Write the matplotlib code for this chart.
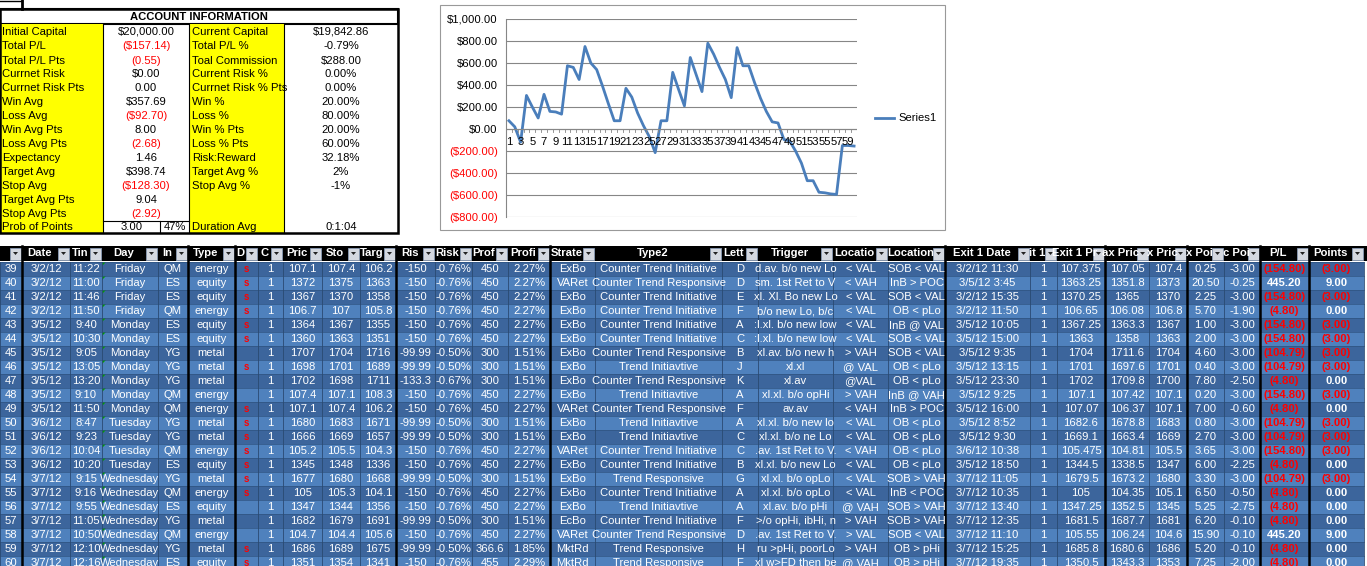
import matplotlib
matplotlib.use('Agg')
import matplotlib.pyplot as plt
from matplotlib.patches import Rectangle, Polygon
from matplotlib.ticker import FuncFormatter

plt.rcParams['font.family'] = ['Liberation Sans', 'DejaVu Sans']

W, H = 1367, 566

# equity curve (Series1)
equity = [75, 20, -120, 305, 200, 100, 315, 160, 155, 135,
          575, 560, 450, 750, 600, 540, 390, 230, 75, 75,
          370, 290, 145, 30, -70, -215, 75, 75, 515, 360,
          210, 650, 495, 340, 780, 680, 560, 450, 285, 740,
          575, 575, 420, 280, 160, 65, 55, -95, -110, -200,
          -310, -470, -470, -575, -580, -590, -595, -150, -150, -155]

info_left_labels = ['Initial Capital', 'Total P/L', 'Total P/L Pts', 'Currnet Risk', 'Currnet Risk Pts',
                    'Win Avg', 'Loss Avg', 'Win Avg Pts', 'Loss Avg Pts', 'Expectancy', 'Target Avg',
                    'Stop Avg', 'Target Avg Pts', 'Stop Avg Pts', 'Prob of Points']
info_left_values = ['$20,000.00', '($157.14)', '(0.55)', '$0.00', '0.00', '$357.69', '($92.70)',
                    '8.00', '(2.68)', '1.46', '$398.74', '($128.30)', '9.04', '(2.92)', '3.00']
info_right_labels = ['Current Capital', 'Total P/L %', 'Toal Commission', 'Current Risk %',
                     'Currnet Risk % Pts', 'Win %', 'Loss %', 'Win % Pts', 'Loss % Pts', 'Risk:Reward',
                     'Target Avg %', 'Stop Avg %', '', '', 'Duration Avg']
info_right_values = ['$19,842.86', '-0.79%', '$288.00', '0.00%', '0.00%', '20.00%', '80.00%',
                     '20.00%', '60.00%', '32.18%', '2%', '-1%', '', '', '0:1:04']
prob_pct = '47%'

headers = ['', 'Date', 'Tin', 'Day', 'In', 'Type', 'D', 'C', 'Pric', 'Sto', 'Targ', 'Ris', 'Risk',
           'Prof', 'Profi', 'Strate', 'Type2', 'Lett', 'Trigger', 'Locatio', 'Location',
           'Exit 1 Date', 'it 1', 'Exit 1 Pr', 'ax Pric', 'x Pric', 'x Poi', 'c Poi', 'P/L', 'Points']

CTI, CTR, TI, TR = 'Counter Trend Initiative', 'Counter Trend Responsive', 'Trend Initiavtive', 'Trend Responsive'
trades = [
    ['39', '3/2/12', '11:22', 'Friday', 'QM', 'energy', 's', '1', '107.1', '107.4', '106.2', '-150', '-0.76%', '450', '2.27%', 'ExBo', CTI, 'D', 'd.av. b/o new Lo', '< VAL', 'SOB < VAL', '3/2/12 11:30', '1', '107.375', '107.05', '107.4', '0.25', '-3.00', '(154.80)', '(3.00)'],
    ['40', '3/2/12', '11:00', 'Friday', 'ES', 'equity', 's', '1', '1372', '1375', '1363', '-150', '-0.76%', '450', '2.27%', 'VARet', CTR, 'D', 'sm. 1st Ret to V', '< VAH', 'InB > POC', '3/5/12 3:45', '1', '1363.25', '1351.8', '1373', '20.50', '-0.25', '445.20', '9.00'],
    ['41', '3/2/12', '11:46', 'Friday', 'ES', 'equity', 's', '1', '1367', '1370', '1358', '-150', '-0.76%', '450', '2.27%', 'ExBo', CTI, 'E', 'xl. Xl. Bo new Lo', '< VAL', 'SOB < VAL', '3/2/12 15:35', '1', '1370.25', '1365', '1370', '2.25', '-3.00', '(154.80)', '(3.00)'],
    ['42', '3/2/12', '11:50', 'Friday', 'QM', 'energy', 's', '1', '106.7', '107', '105.8', '-150', '-0.76%', '450', '2.27%', 'ExBo', CTI, 'F', 'b/o new Lo, b/c', '< VAL', 'OB < pLo', '3/2/12 11:50', '1', '106.65', '106.08', '106.8', '5.70', '-1.90', '(4.80)', '0.00'],
    ['43', '3/5/12', '9:40', 'Monday', 'ES', 'equity', 's', '1', '1364', '1367', '1355', '-150', '-0.76%', '450', '2.27%', 'ExBo', CTI, 'A', ':l.xl. b/o new low', '< VAL', 'InB @ VAL', '3/5/12 10:05', '1', '1367.25', '1363.3', '1367', '1.00', '-3.00', '(154.80)', '(3.00)'],
    ['44', '3/5/12', '10:30', 'Monday', 'ES', 'equity', 's', '1', '1360', '1363', '1351', '-150', '-0.76%', '450', '2.27%', 'ExBo', CTI, 'C', ':l.xl. b/o new low', '< VAL', 'SOB < VAL', '3/5/12 15:00', '1', '1363', '1358', '1363', '2.00', '-3.00', '(154.80)', '(3.00)'],
    ['45', '3/5/12', '9:05', 'Monday', 'YG', 'metal', '', '1', '1707', '1704', '1716', '-99.99', '-0.50%', '300', '1.51%', 'ExBo', CTR, 'B', 'xl.av. b/o new h', '> VAH', 'SOB < VAL', '3/5/12 9:35', '1', '1704', '1711.6', '1704', '4.60', '-3.00', '(104.79)', '(3.00)'],
    ['46', '3/5/12', '13:05', 'Monday', 'YG', 'metal', 's', '1', '1698', '1701', '1689', '-99.99', '-0.50%', '300', '1.51%', 'ExBo', TI, 'J', 'xl.xl', '@ VAL', 'OB < pLo', '3/5/12 13:15', '1', '1701', '1697.6', '1701', '0.40', '-3.00', '(104.79)', '(3.00)'],
    ['47', '3/5/12', '13:20', 'Monday', 'YG', 'metal', '', '1', '1702', '1698', '1711', '-133.3', '-0.67%', '300', '1.51%', 'ExBo', CTR, 'K', 'xl.av', '@VAL', 'OB < pLo', '3/5/12 23:30', '1', '1702', '1709.8', '1700', '7.80', '-2.50', '(4.80)', '0.00'],
    ['48', '3/5/12', '9:10', 'Monday', 'QM', 'energy', '', '1', '107.4', '107.1', '108.3', '-150', '-0.76%', '450', '2.27%', 'ExBo', TI, 'A', 'xl.xl. b/o opHi', '> VAH', 'InB @ VAH', '3/5/12 9:25', '1', '107.1', '107.42', '107.1', '0.20', '-3.00', '(154.80)', '(3.00)'],
    ['49', '3/5/12', '11:50', 'Monday', 'QM', 'energy', 's', '1', '107.1', '107.4', '106.2', '-150', '-0.76%', '450', '2.27%', 'VARet', CTR, 'F', 'av.av', '< VAH', 'InB > POC', '3/5/12 16:00', '1', '107.07', '106.37', '107.1', '7.00', '-0.60', '(4.80)', '0.00'],
    ['50', '3/6/12', '8:47', 'Tuesday', 'YG', 'metal', 's', '1', '1680', '1683', '1671', '-99.99', '-0.50%', '300', '1.51%', 'ExBo', TI, 'A', 'xl.xl. b/o new lo', '< VAL', 'OB < pLo', '3/5/12 8:52', '1', '1682.6', '1678.8', '1683', '0.80', '-3.00', '(104.79)', '(3.00)'],
    ['51', '3/6/12', '9:23', 'Tuesday', 'YG', 'metal', 's', '1', '1666', '1669', '1657', '-99.99', '-0.50%', '300', '1.51%', 'ExBo', TI, 'C', 'xl.xl. b/o ne Lo', '< VAL', 'OB < pLo', '3/5/12 9:30', '1', '1669.1', '1663.4', '1669', '2.70', '-3.00', '(104.79)', '(3.00)'],
    ['52', '3/6/12', '10:04', 'Tuesday', 'QM', 'energy', 's', '1', '105.2', '105.5', '104.3', '-150', '-0.76%', '450', '2.27%', 'VARet', CTI, 'C', '.av. 1st Ret to V.', '< VAH', 'OB < pLo', '3/6/12 10:38', '1', '105.475', '104.81', '105.5', '3.65', '-3.00', '(154.80)', '(3.00)'],
    ['53', '3/6/12', '10:20', 'Tuesday', 'ES', 'equity', 's', '1', '1345', '1348', '1336', '-150', '-0.76%', '450', '2.27%', 'ExBo', CTI, 'B', 'xl.xl. b/o new Lo', '< VAL', 'OB < pLo', '3/5/12 18:50', '1', '1344.5', '1338.5', '1347', '6.00', '-2.25', '(4.80)', '0.00'],
    ['54', '3/7/12', '9:15', 'Wednesday', 'YG', 'metal', 's', '1', '1677', '1680', '1668', '-99.99', '-0.50%', '300', '1.51%', 'ExBo', TR, 'G', 'xl.xl. b/o opLo', '< VAL', 'SOB > VAH', '3/7/12 11:05', '1', '1679.5', '1673.2', '1680', '3.30', '-3.00', '(104.79)', '(3.00)'],
    ['55', '3/7/12', '9:16', 'Wednesday', 'QM', 'energy', 's', '1', '105', '105.3', '104.1', '-150', '-0.76%', '450', '2.27%', 'ExBo', CTI, 'A', 'xl.xl. b/o opLo', '< VAL', 'InB < POC', '3/7/12 10:35', '1', '105', '104.35', '105.1', '6.50', '-0.50', '(4.80)', '0.00'],
    ['56', '3/7/12', '9:55', 'Wednesday', 'ES', 'equity', '', '1', '1347', '1344', '1356', '-150', '-0.76%', '450', '2.27%', 'ExBo', TI, 'A', 'xl.av. b/o pHi', '@ VAH', 'SOB > VAH', '3/7/12 13:40', '1', '1347.25', '1352.5', '1345', '5.25', '-2.75', '(4.80)', '0.00'],
    ['57', '3/7/12', '11:05', 'Wednesday', 'YG', 'metal', '', '1', '1682', '1679', '1691', '-99.99', '-0.50%', '300', '1.51%', 'EcBo', CTI, 'F', '>/o opHi, ibHi, n', '> VAH', 'SOB > VAH', '3/7/12 12:35', '1', '1681.5', '1687.7', '1681', '6.20', '-0.10', '(4.80)', '0.00'],
    ['58', '3/7/12', '10:50', 'Wednesday', 'QM', 'energy', '', '1', '104.7', '104.4', '105.6', '-150', '-0.76%', '450', '2.27%', 'VARet', CTR, 'D', '.av. 1st Ret to V.', '> VAL', 'SOB < VAL', '3/7/12 11:10', '1', '105.55', '106.24', '104.6', '15.90', '-0.10', '445.20', '9.00'],
    ['59', '3/7/12', '12:10', 'Wednesday', 'YG', 'metal', 's', '1', '1686', '1689', '1675', '-99.99', '-0.50%', '366.6', '1.85%', 'MktRd', TR, 'H', 'ru >pHi, poorLo', '> VAH', 'OB > pHi', '3/7/12 15:25', '1', '1685.8', '1680.6', '1686', '5.20', '-0.10', '(4.80)', '0.00'],
    ['60', '3/7/12', '12:16', 'Wednesday', 'ES', 'equity', 's', '1', '1351', '1354', '1341', '-150', '-0.76%', '455', '2.29%', 'MktRd', TR, 'F', 'xl w>FD then be', '@ VAH', 'OB > pHi', '3/7/12 19:35', '1', '1350.5', '1343.3', '1353', '7.25', '-2.00', '(4.80)', '0.00'],
]

edges = [0, 22, 70, 102, 158, 188, 235, 258, 283, 322, 360, 396, 435, 472, 508, 550, 595, 722,
         758, 833, 888, 945, 1030, 1057, 1105, 1149, 1187, 1224, 1260, 1309, 1364]
thick = [22, 188, 235, 396, 550, 945, 1105, 1187, 1260, 1309]

fig = plt.figure(figsize=(W / 100, H / 100), dpi=100)
ax = fig.add_axes([0, 0, 1, 1])
ax.set_xlim(0, W)
ax.set_ylim(H, 0)
ax.axis('off')

FS = 8.1
RED = '#ff0000'

# --- account information block ---
ax.add_patch(Rectangle((0, 9), 398, 15, fc='white', ec='black', lw=1.5))
ax.text(199, 16.5, 'ACCOUNT INFORMATION', ha='center', va='center', fontsize=FS, weight='bold')
ax.add_patch(Rectangle((0, 24), 103, 209, fc='#ffff00', ec='none'))
ax.add_patch(Rectangle((189, 24), 95, 209, fc='#ffff00', ec='none'))
for x in (103, 189, 284):
    ax.plot([x, x], [24, 233], color='black', lw=0.8)
ax.plot([103, 189], [220.5, 220.5], color='black', lw=0.8)
ax.plot([160, 160], [220.5, 233], color='black', lw=0.8)
ax.add_patch(Rectangle((0, 9), 398, 224, fc='none', ec='black', lw=1.8))
row_y = [31.7, 45.7, 60.7, 73.7, 87.7, 101.7, 115.7, 129.7, 143.7, 157.7, 171.7, 185.7, 199.7, 213.7, 226.7]
for i, y in enumerate(row_y):
    ax.text(2, y, info_left_labels[i], va='center', fontsize=FS)
    v = info_left_values[i]
    xv = 132 if i == len(row_y) - 1 else 146
    ax.text(xv, y, v, ha='center', va='center', fontsize=FS, color=RED if v.startswith('(') else 'black')
    ax.text(192, y, info_right_labels[i], va='center', fontsize=FS)
    ax.text(341, y, info_right_values[i], ha='center', va='center', fontsize=FS)
ax.text(175, row_y[-1], prob_pct, ha='center', va='center', fontsize=FS)
ax.plot([0, 22], [0.5, 0.5], color='black', lw=1)
ax.plot([22, 22], [0, 9], color='black', lw=2)

# --- chart box ---
ax.add_patch(Rectangle((440, 5), 505, 225, fc='white', ec='#999999', lw=0.8))
ax.plot([875, 894], [118, 118], color='#4a7ebb', lw=2)
ax.text(898, 118, 'Series1', va='center', fontsize=FS)

cx = fig.add_axes([506 / W, (H - 217) / H, (857 - 506) / W, (217 - 19) / H])
n = len(equity)
xs = list(range(1, n + 1))
cx.plot(xs, equity, color='#4a7ebb', lw=2)
cx.set_xlim(0.5, n + 0.5)
cx.set_ylim(-800, 1000)
cx.set_yticks(range(-800, 1001, 200))
cx.yaxis.set_major_formatter(FuncFormatter(lambda v, p: f'${v:,.2f}' if v >= 0 else f'(${-v:,.2f})'))
cx.grid(axis='y', color='#868686', lw=0.8)
cx.set_axisbelow(True)
cx.tick_params(axis='y', length=0, labelsize=FS, pad=6)
for lab in cx.get_yticklabels():
    if lab.get_text().startswith('('):
        lab.set_color(RED)
cx.set_xticks([])
for s in ('top', 'right', 'bottom'):
    cx.spines[s].set_visible(False)
cx.spines['left'].set_color('#868686')
cx.axhline(0, color='#868686', lw=0.8)
for k in range(n + 1):
    cx.plot([k + 0.5, k + 0.5], [0, -25], color='#868686', lw=0.6)
for k in xs[::2]:
    cx.text(k, -120, str(k), ha='center', va='center', fontsize=FS)

# --- trade table ---
ax.add_patch(Rectangle((0, 246), 1367, 15, fc='black', ec='none'))
for r in range(len(trades)):
    top = 262 + 14 * r
    ax.add_patch(Rectangle((0, top), 1364, 14, fc='#3c659c' if r % 2 == 0 else '#4f81bd', ec='none'))
    ax.plot([0, 1364], [top, top], color='#2f5380', lw=0.5)
for x in edges:
    ax.plot([x, x], [262, H], color='#2a4a72', lw=0.6)
for x in thick:
    ax.plot([x, x], [246, H], color='black', lw=1.8)

for c in range(len(headers)):
    l, r = edges[c], edges[c + 1]
    ax.add_patch(Rectangle((r - 12, 247.5), 11, 12, fc='#d4d8e0', ec='#8a9bb5', lw=0.6))
    ax.add_patch(Polygon([[r - 9, 252], [r - 4, 252], [r - 6.5, 255]], closed=True, fc='#222222', ec='none'))
    if headers[c]:
        ax.text((l + r - 12) / 2, 253.5, headers[c], ha='center', va='center', fontsize=FS,
                color='white', weight='bold')

for r, row in enumerate(trades):
    y = 262 + 14 * r + 7
    ax.add_patch(Polygon([[102, y - 7], [106, y - 7], [102, y - 3]], closed=True, fc='#00a000', ec='none'))
    for c, val in enumerate(row):
        l, rr = edges[c], edges[c + 1]
        red = val.startswith('(') or c == 6
        ax.text((l + rr) / 2, y, val, ha='center', va='center', fontsize=FS if c != 6 else 7,
                color=RED if red else 'white', weight='bold' if (c >= 28 or c == 6) else 'normal',
                clip_on=True)

fig.savefig('out.png', dpi=100)
